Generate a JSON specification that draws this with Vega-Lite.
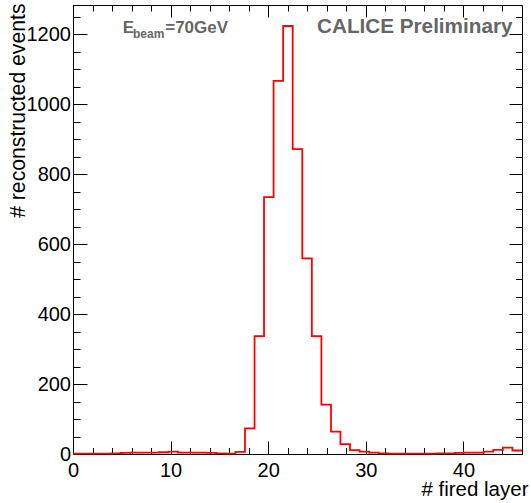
{
  "$schema": "https://vega.github.io/schema/vega-lite/v6.json",
  "width": 449,
  "height": 449,
  "autosize": {"type": "none"},
  "padding": {"left": 73, "top": 5, "right": 9, "bottom": 49},
  "background": "white",
  "config": {
    "view": {"stroke": "black", "strokeWidth": 1},
    "font": "Liberation Sans",
    "axis": {
      "grid": false,
      "domain": false,
      "tickColor": "black",
      "tickWidth": 1,
      "labelFont": "Liberation Sans",
      "labelColor": "black",
      "labelFlush": false,
      "labelOverlap": false,
      "titleFont": "Liberation Sans",
      "titleFontWeight": "normal",
      "titleColor": "black"
    }
  },
  "data": {
    "values": [
      {"x": 0.00, "n": 1}, {"x": 0.98, "n": 1}, {"x": 1.96, "n": 1}, {"x": 2.94, "n": 1},
      {"x": 3.91, "n": 2}, {"x": 4.89, "n": 3}, {"x": 5.87, "n": 4}, {"x": 6.85, "n": 4},
      {"x": 7.83, "n": 4}, {"x": 8.81, "n": 5}, {"x": 9.79, "n": 7}, {"x": 10.77, "n": 4},
      {"x": 11.74, "n": 4}, {"x": 12.72, "n": 4}, {"x": 13.70, "n": 3}, {"x": 14.68, "n": 2},
      {"x": 15.66, "n": 1}, {"x": 16.64, "n": 6}, {"x": 17.62, "n": 73}, {"x": 18.60, "n": 337},
      {"x": 19.57, "n": 734}, {"x": 20.55, "n": 1066}, {"x": 21.53, "n": 1223}, {"x": 22.51, "n": 871},
      {"x": 23.49, "n": 559}, {"x": 24.47, "n": 337}, {"x": 25.45, "n": 141}, {"x": 26.43, "n": 64},
      {"x": 27.40, "n": 28}, {"x": 28.38, "n": 11}, {"x": 29.36, "n": 7}, {"x": 30.34, "n": 4},
      {"x": 31.32, "n": 2}, {"x": 32.30, "n": 1}, {"x": 33.28, "n": 1}, {"x": 34.26, "n": 1},
      {"x": 35.23, "n": 1}, {"x": 36.21, "n": 1}, {"x": 37.19, "n": 2}, {"x": 38.17, "n": 2},
      {"x": 39.15, "n": 3}, {"x": 40.13, "n": 4}, {"x": 41.11, "n": 4}, {"x": 42.09, "n": 7},
      {"x": 43.06, "n": 12}, {"x": 44.04, "n": 18}, {"x": 45.02, "n": 10}, {"x": 46.00, "n": 10}
    ]
  },
  "layer": [
    {
      "mark": {"type": "point", "opacity": 0},
      "encoding": {
        "x": {"field": "x", "type": "quantitative", "scale": {"domain": [0, 46], "nice": false, "zero": false},
          "axis": {"orient": "bottom", "values": [0,2,4,6,8,10,12,14,16,18,20,22,24,26,28,30,32,34,36,38,40,42,44,46], "tickSize": -6.5, "labels": false, "title": null}},
        "y": {"field": "n", "type": "quantitative", "scale": {"domain": [0, 1283], "nice": false},
          "axis": {"orient": "left", "values": [0,50,100,150,200,250,300,350,400,450,500,550,600,650,700,750,800,850,900,950,1000,1050,1100,1150,1200,1250], "tickSize": -7, "labels": false, "title": null}}
      }
    },
    {
      "mark": {"type": "point", "opacity": 0},
      "encoding": {
        "x": {"field": "x", "type": "quantitative",
          "axis": {"orient": "top", "values": [0,10,20,30,40], "tickSize": -12, "labels": false, "title": null}},
        "y": {"field": "n", "type": "quantitative",
          "axis": {"orient": "right", "values": [0,200,400,600,800,1000,1200], "tickSize": -13, "labels": false, "title": null}}
      }
    },
    {
      "mark": {"type": "point", "opacity": 0},
      "encoding": {
        "x": {"field": "x", "type": "quantitative",
          "axis": {"orient": "top", "values": [0,2,4,6,8,10,12,14,16,18,20,22,24,26,28,30,32,34,36,38,40,42,44,46], "tickSize": -6, "labels": false, "title": null}},
        "y": {"field": "n", "type": "quantitative",
          "axis": {"orient": "right", "values": [0,50,100,150,200,250,300,350,400,450,500,550,600,650,700,750,800,850,900,950,1000,1050,1100,1150,1200,1250], "tickSize": -6.5, "labels": false, "title": null}}
      }
    },
    {
      "mark": {"type": "line", "interpolate": "step-after", "color": "#ff0000", "strokeWidth": 1.8},
      "encoding": {
        "x": {"field": "x", "type": "quantitative",
          "axis": {"orient": "bottom", "values": [0,10,20,30,40], "format": "d", "tickSize": -13, "labelFontSize": 20, "labelPadding": 19.5,
            "domain": true, "domainColor": "black", "domainWidth": 1,
            "title": "# fired layer", "titleFontSize": 20.5, "titleAlign": "right", "titleBaseline": "alphabetic", "titleAnchor": "end", "titleX": 455, "titleY": 41}},
        "y": {"field": "n", "type": "quantitative",
          "axis": {"orient": "left", "values": [0,200,400,600,800,1000,1200], "format": "d", "tickSize": -14, "labelFontSize": 20, "labelPadding": 16.5,
            "domain": true, "domainColor": "black", "domainWidth": 1,
            "title": "# reconstructed events", "titleFontSize": 21.2, "titleAngle": 270, "titleAlign": "right", "titleBaseline": "alphabetic", "titleAnchor": "end", "titleX": -49, "titleY": -2}}
      }
    },
    {
      "data": {"values": [{}]},
      "mark": {"type": "text", "text": "E", "font": "Liberation Sans", "fontWeight": "bold", "fontSize": 17, "color": "#666666", "align": "left", "baseline": "alphabetic"},
      "encoding": {"x": {"datum": 5.1, "type": "quantitative", "axis": null}, "y": {"datum": 1202, "type": "quantitative", "axis": null}}
    },
    {
      "data": {"values": [{}]},
      "mark": {"type": "text", "text": "beam", "font": "Liberation Sans", "fontWeight": "bold", "fontSize": 12, "color": "#666666", "align": "left", "baseline": "alphabetic"},
      "encoding": {"x": {"datum": 6.15, "type": "quantitative", "axis": null}, "y": {"datum": 1190, "type": "quantitative", "axis": null}}
    },
    {
      "data": {"values": [{}]},
      "mark": {"type": "text", "text": "=70GeV", "font": "Liberation Sans", "fontWeight": "bold", "fontSize": 17, "color": "#666666", "align": "left", "baseline": "alphabetic"},
      "encoding": {"x": {"datum": 9.45, "type": "quantitative", "axis": null}, "y": {"datum": 1202, "type": "quantitative", "axis": null}}
    },
    {
      "data": {"values": [{}]},
      "mark": {"type": "text", "text": "CALICE Preliminary", "font": "Liberation Sans", "fontWeight": "bold", "fontSize": 20.7, "color": "#666666", "align": "left", "baseline": "alphabetic"},
      "encoding": {"x": {"datum": 25.0, "type": "quantitative", "axis": null}, "y": {"datum": 1202, "type": "quantitative", "axis": null}}
    }
  ],
  "resolve": {"axis": {"x": "independent", "y": "independent"}}
}
